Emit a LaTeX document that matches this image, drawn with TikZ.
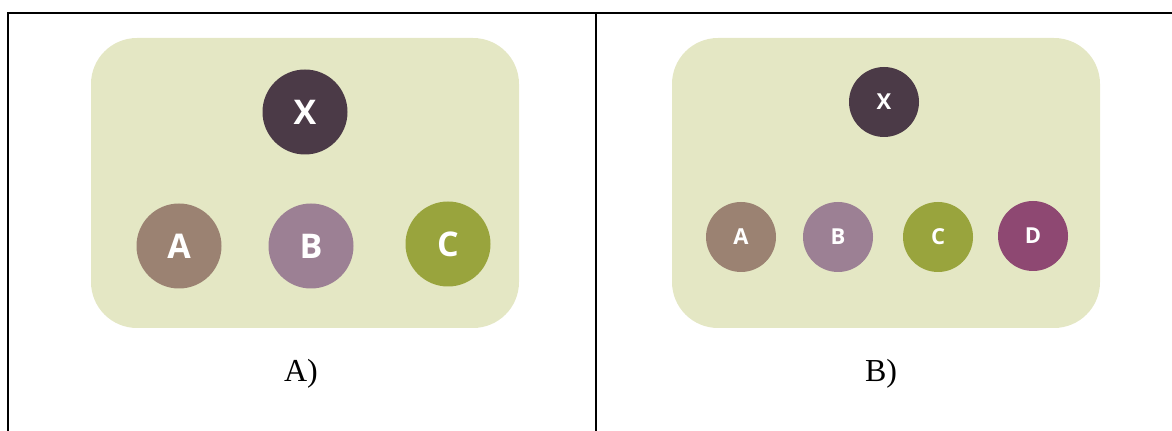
\documentclass[tikz,border=0pt]{standalone}
\usepackage{fontspec}
\setmainfont{Liberation Serif}
\newfontfamily\ballfont{Open Sans}
\definecolor{panelbg}{HTML}{E4E7C4}
\definecolor{xcol}{HTML}{4B3A47}
\definecolor{acol}{HTML}{9B8272}
\definecolor{bcol}{HTML}{9C8094}
\definecolor{ccol}{HTML}{99A43D}
\definecolor{dcol}{HTML}{8E4872}
\tikzset{
  panel/.style={fill=panelbg,rounded corners=23pt},
  bigball/.style={circle,inner sep=0pt,minimum size=42.5pt,text=white,font=\ballfont\bfseries\fontsize{17}{17}\selectfont},
  smallball/.style={circle,inner sep=0pt,minimum size=35pt,text=white,font=\ballfont\bfseries\fontsize{11}{11}\selectfont},
  caption/.style={anchor=base,font=\fontsize{16}{18}\selectfont}
}

\begin{document}
\begin{tikzpicture}[x=0.5pt,y=-0.5pt,line width=1pt]
\useasboundingbox (0,0) rectangle (1172,431);
\coordinate (TL) at (8,13); \coordinate (TR) at (1172,13);
\coordinate (BL) at (8,431); \coordinate (TM) at (596,13); \coordinate (BM) at (596,431);
\draw (BL)--(TL)--(TR);
\draw (TM)--(BM);
% left panel
\fill[panel] (91,38) rectangle (519,328);
\node[bigball,fill=xcol] (lX) at (305,112) {X};
\node[bigball,fill=acol] (lA) at (179,246) {A};
\node[bigball,fill=bcol] (lB) at (311,246) {B};
\node[bigball,fill=ccol] (lC) at (448,244) {C};
\node[caption] (capA) at (301,382) {A)};
% right panel
\fill[panel] (672,38) rectangle (1100,328);
\node[smallball,fill=xcol] (rX) at (884,102) {X};
\node[smallball,fill=acol] (rA) at (741,237) {A};
\node[smallball,fill=bcol] (rB) at (838,237) {B};
\node[smallball,fill=ccol] (rC) at (938,237) {C};
\node[smallball,fill=dcol] (rD) at (1033,236) {D};
\node[caption] (capB) at (881,382) {B)};
\end{tikzpicture}
\end{document}
